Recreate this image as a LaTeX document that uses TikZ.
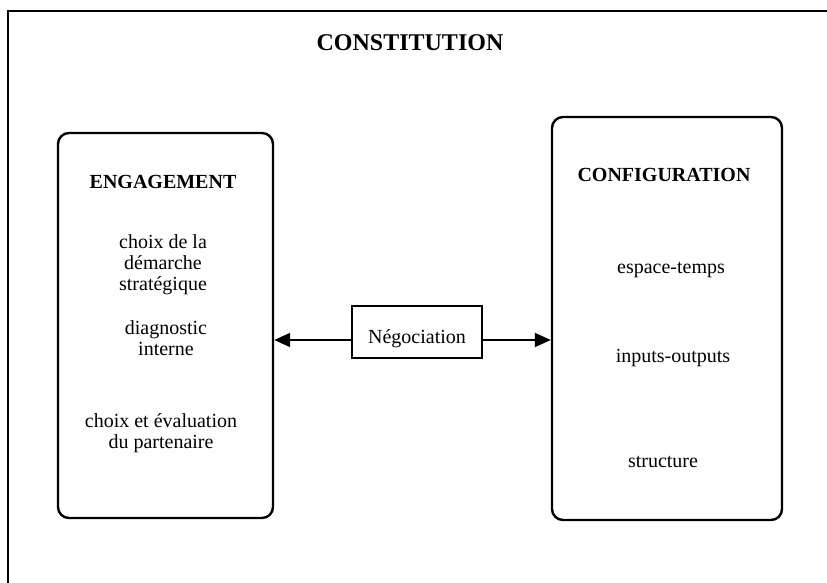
\documentclass[tikz,border=0pt]{standalone}
\usepackage{fontspec}
\setmainfont{Liberation Serif}
\usetikzlibrary{arrows.meta}
\begin{document}
\begin{tikzpicture}[x=1pt,y=-1pt,
  panel/.style={draw,line width=2.4pt,rounded corners=11pt,inner sep=0pt},
  negbox/.style={draw,line width=2pt,inner sep=0pt,minimum width=130pt,minimum height=52pt,
    text height=22pt,text depth=0pt,font=\fontsize{20}{21}\selectfont},
  title/.style={font=\fontsize{24}{26}\selectfont\bfseries},
  head/.style={font=\fontsize{20}{22}\selectfont\bfseries},
  item/.style={align=center,inner sep=0pt,font=\fontsize{20}{21}\selectfont},
  link/.style={line width=2pt,-{Triangle[length=16pt,width=14pt]}}]
  \useasboundingbox (0,0) rectangle (827,583);
  % frame (only its top and left sides fall on the page)
  \draw[line width=2pt] (8,583) -- (8,11.5) -- (827,11.5);
  \node[title] (constitution) at (410,43) {CONSTITUTION};
  % the two panels
  \node[panel,minimum width=215pt,minimum height=385pt] (engagement) at (165.5,325.5) {};
  \node[panel,minimum width=230pt,minimum height=403pt] (configuration) at (667,318.5) {};
  % left panel contents
  \node[head] (enghead) at (163,182) {ENGAGEMENT};
  \node[item] (demarche) at (163,265) {choix de la\\démarche\\stratégique};
  \node[item] (diagnostic) at (166,338) {diagnostic\\interne};
  \node[item] (partenaire) at (161,433) {choix et évaluation\\du partenaire};
  % right panel contents
  \node[head] (confhead) at (664,175) {CONFIGURATION};
  \node[item] (espace) at (671,270) {espace-temps};
  \node[item] (inputs) at (673,358) {inputs-outputs};
  \node[item] (structure) at (663,462) {structure};
  % negotiation between the panels
  \node[negbox] (negociation) at (417,332) {Négociation};
  \coordinate (ay) at (417,340);
  \draw[link] (negociation.west |- ay) -- (engagement.east |- ay);
  \draw[link] (negociation.east |- ay) -- (configuration.west |- ay);
\end{tikzpicture}
\end{document}
